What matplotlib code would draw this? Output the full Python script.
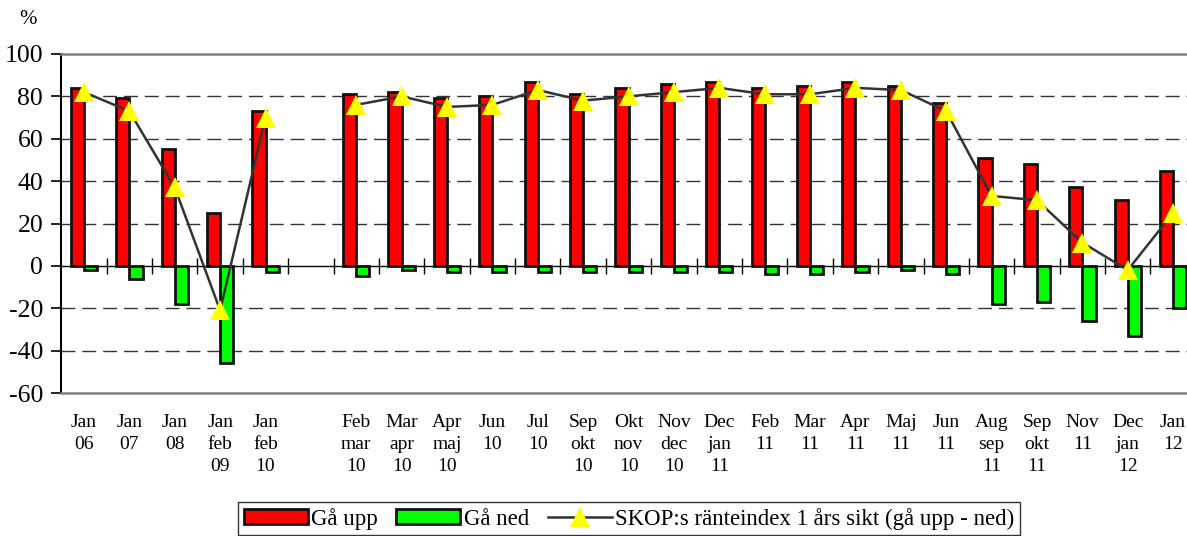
import numpy as np
import matplotlib
matplotlib.use("Agg")
import matplotlib.pyplot as plt

plt.rcParams.update({
    "font.family": ["Liberation Serif", "DejaVu Serif"],
    "font.size": 14,
    "axes.unicode_minus": False,
})

# categories (empty slot marks the break in the survey series)
labels = ["Jan\n06", "Jan\n07", "Jan\n08", "Jan\nfeb\n09", "Jan\nfeb\n10", "",
          "Feb\nmar\n10", "Mar\napr\n10", "Apr\nmaj\n10", "Jun\n10", "Jul\n10",
          "Sep\nokt\n10", "Okt\nnov\n10", "Nov\ndec\n10", "Dec\njan\n11",
          "Feb\n11", "Mar\n11", "Apr\n11", "Maj\n11", "Jun\n11",
          "Aug\nsep\n11", "Sep\nokt\n11", "Nov\n11", "Dec\njan\n12", "Jan\n12"]

ga_upp = [84, 79, 55, 25, 73, np.nan, 81, 82, 79, 80, 87, 81, 84, 86, 87,
          84, 85, 87, 85, 77, 51, 48, 37, 31, 45]
ga_ned = [-2, -6, -18, -46, -3, np.nan, -5, -2, -3, -3, -3, -3, -3, -3, -3,
          -4, -4, -3, -2, -4, -18, -17, -26, -33, -20]
index_1ar = [82, 73, 37, -21, 70, np.nan, 76, 80, 75, 76, 83, 78, 80, 82, 84,
             81, 81, 84, 83, 73, 33, 31, 11, -2, 25]

yticks = [-60, -40, -20, 0, 20, 40, 60, 80, 100]

fig = plt.figure(figsize=(11.87, 5.36), dpi=100)
ax = fig.add_axes([61.3 / 1187, 1 - 393 / 536, 1134.5 / 1187, 339 / 536])

x = np.arange(len(labels))
w = 0.29
b_up = ax.bar(x - w / 2, ga_upp, width=w, color="#ff0000", edgecolor="#111111",
              linewidth=2.0, label="Gå upp", zorder=3)
b_ned = ax.bar(x + w / 2, ga_ned, width=w, color="#00ff00", edgecolor="#111111",
               linewidth=2.0, label="Gå ned", zorder=3)
ln, = ax.plot(x, index_1ar, color="#333333", linewidth=1.8, marker="^",
              markersize=14, markerfacecolor="#ffff00", markeredgewidth=0,
              label="SKOP:s ränteindex 1 års sikt (gå upp - ned)", zorder=4)

ax.set_xlim(-0.5, len(labels) - 0.5)
ax.set_ylim(yticks[0], yticks[-1])
ax.set_yticks(yticks)
ax.tick_params(axis="y", direction="out", length=7, width=1.2, pad=6, labelsize=18.5)
ax.set_xticks([])

for v in yticks[1:-1]:
    if v != 0:
        ax.axhline(v, color="#333333", linewidth=1, dashes=(10, 5), zorder=1)

ax.spines["right"].set_visible(False)
ax.spines["top"].set_color("#808080")
ax.spines["bottom"].set_color("#808080")
ax.spines["top"].set_linewidth(1.8)
ax.spines["bottom"].set_linewidth(1.8)
ax.spines["left"].set_linewidth(1.5)

# zero line with category boundary ticks
zero_pos = (0 - yticks[0]) / (yticks[-1] - yticks[0])
sec = ax.secondary_xaxis(zero_pos)
sec.set_xticks(np.arange(len(labels) - 1) + 0.5)
sec.tick_params(direction="inout", length=11, width=1, labelbottom=False,
                labeltop=False)
sec.spines["bottom"].set_linewidth(1.0)

for i, lab in enumerate(labels):
    ax.text(i, -0.061, lab, transform=ax.get_xaxis_transform(), ha="center",
            va="top", fontsize=14, linespacing=1.41)

fig.text(28 / 1187, 1 - 20 / 536, "%", fontsize=15, ha="center", va="center")

leg = fig.legend([b_up, b_ned, ln], [b_up.get_label(), b_ned.get_label(), ln.get_label()],
                 loc="upper center", bbox_to_anchor=(629 / 1187, 1 - 502 / 536),
                 ncol=3, frameon=True, fancybox=False, fontsize=16.5,
                 handlelength=2.8, handleheight=0.6, handletextpad=0.15,
                 columnspacing=0.8, borderpad=0.25, borderaxespad=0)
leg.get_frame().set_edgecolor("black")
leg.get_frame().set_linewidth(1.0)

fig.savefig("out.png", dpi=100)
